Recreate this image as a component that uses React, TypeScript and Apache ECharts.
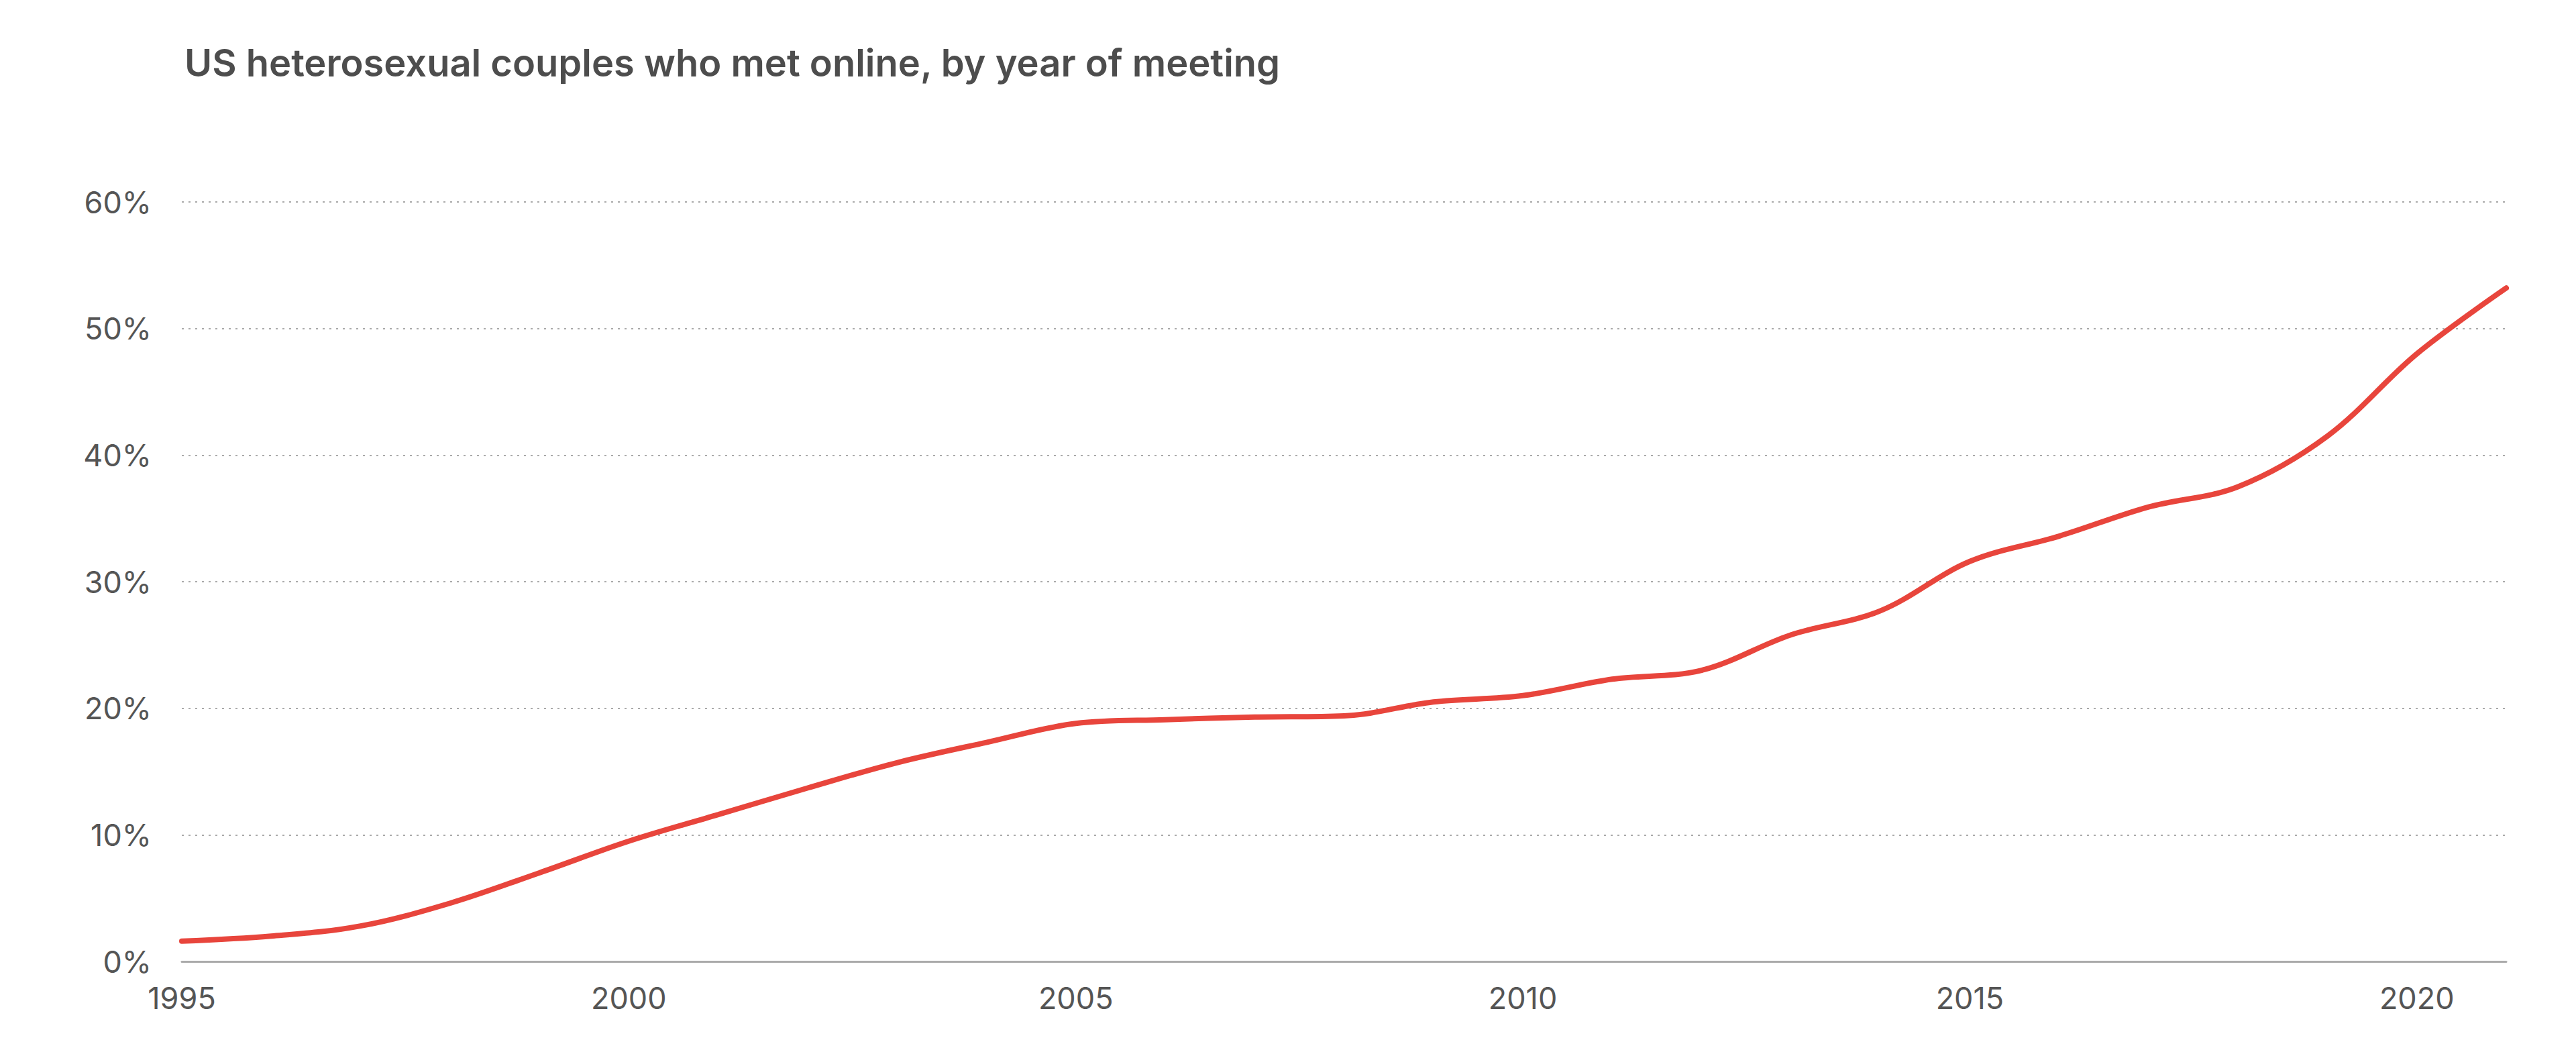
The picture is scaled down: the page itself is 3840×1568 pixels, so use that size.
import React, { useEffect, useRef } from "react";
import * as echarts from "echarts";

const titleText = "US heterosexual couples who met online, by year of meeting";
const years = [1995, 1996, 1997, 1998, 1999, 2000, 2001, 2002, 2003, 2004, 2005, 2006, 2007, 2008, 2009, 2010, 2011, 2012, 2013, 2014, 2015, 2016, 2017, 2018, 2019, 2020, 2021];
const metOnline = [1.6, 2.0, 2.8, 4.6, 7.0, 9.5, 11.6, 13.7, 15.7, 17.3, 18.8, 19.1, 19.3, 19.4, 20.5, 21.0, 22.3, 23.0, 25.8, 27.7, 31.6, 33.6, 35.9, 37.5, 41.5, 48.0, 53.2];
const yTicks = [0, 10, 20, 30, 40, 50, 60];
const xTickStep = 5;

export default function App() {
  const ref = useRef<HTMLDivElement>(null);
  useEffect(() => {
    document.body.style.margin = "0";
    const chart = echarts.init(ref.current!, null, { renderer: "svg" });
    chart.setOption({
      animation: false,
      backgroundColor: "#ffffff",
      title: {
        text: titleText,
        left: 270,
        top: 61,
        textStyle: {
          fontFamily: "Inter",
          fontWeight: 600,
          fontSize: 56,
          color: "#4d4d4d",
        },
      },
      grid: { left: 271, right: 104, top: 301, bottom: 135, containLabel: false },
      xAxis: {
        type: "value",
        min: years[0],
        max: years[years.length - 1],
        interval: xTickStep,
        axisLine: { show: true, lineStyle: { color: "#aaaaaa", width: 3 } },
        axisTick: { show: false },
        splitLine: { show: false },
        axisLabel: {
          showMaxLabel: false,
          margin: 32,
          fontFamily: "Inter",
          fontSize: 45,
          color: "#555555",
          formatter: (v: number) => String(v),
        },
      },
      yAxis: {
        type: "value",
        min: yTicks[0],
        max: yTicks[yTicks.length - 1],
        interval: 10,
        axisLine: { show: false },
        axisTick: { show: false },
        axisLabel: {
          margin: 45,
          fontFamily: "Inter",
          fontSize: 45,
          color: "#555555",
          formatter: "{value}%",
        },
        splitLine: {
          show: true,
          showMinLine: false,
          lineStyle: { color: "#aaaaaa", width: 2, type: [3, 7] },
        },
      },
      series: [
        {
          type: "line",
          data: years.map((y, i) => [y, metOnline[i]]),
          smooth: 0.35,
          showSymbol: false,
          symbol: "none",
          lineStyle: { color: "#E8453C", width: 8, cap: "round" },
        },
      ],
    });
    return () => chart.dispose();
  }, []);
  return <div ref={ref} style={{ width: 3840, height: 1568 }} />;
}
